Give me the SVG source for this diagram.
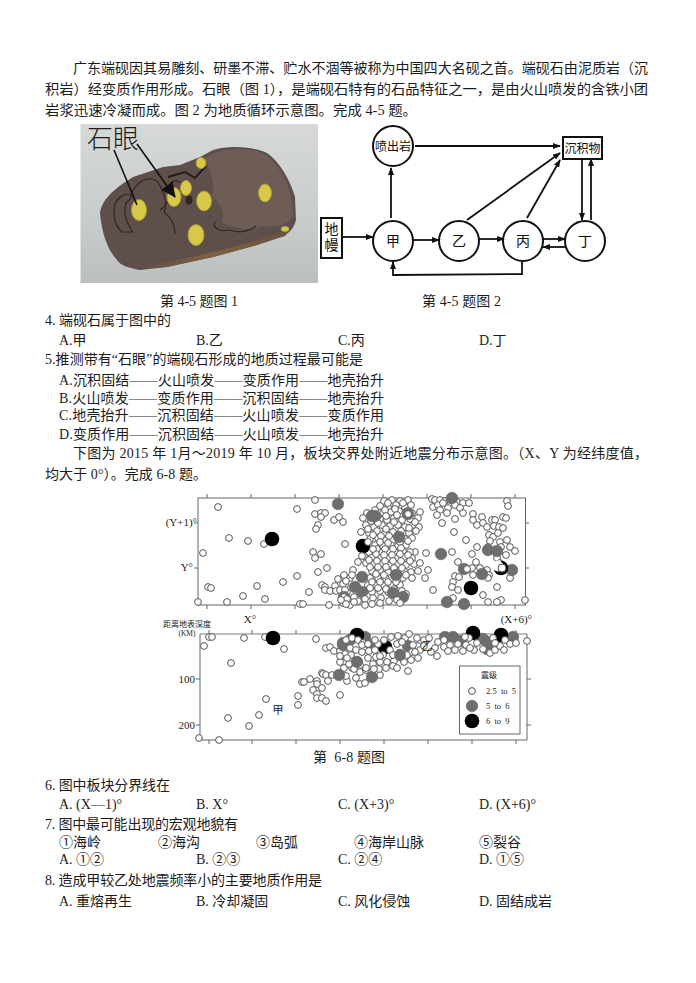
<svg xmlns="http://www.w3.org/2000/svg" width="696" height="983" viewBox="0 0 696 983">
<style>
text{font-family:"Liberation Serif","Noto Sans CJK SC",serif;font-size:14px;fill:#1c1c1c}
.s{font-size:11px}
.n{font-family:"Noto Sans CJK SC",sans-serif;font-size:14px;text-anchor:middle;fill:#111}
.nd circle,.nd rect{fill:#fff;stroke:#111;stroke-width:2}
#connectors path{fill:none;stroke:#111;stroke-width:1.8;marker-end:url(#ah)}
.w circle{r:3.4px;fill:#fff;stroke:#555;stroke-width:1}
.g circle{r:5.8px;fill:#6e6e6e;stroke:#666;stroke-width:.6}
.b circle{r:7.3px;fill:#000}
.fr{fill:none;stroke:#666;stroke-width:1}
.tk{stroke:#666;stroke-width:1;fill:none}
.eye{fill:#d8c94a;stroke:#a89a3a;stroke-width:1}
.cr{fill:none;stroke:#2f2624;stroke-width:1.2}
</style>
<defs>
<marker id="ah" markerWidth="8" markerHeight="7" refX="7" refY="3" orient="auto" markerUnits="userSpaceOnUse"><path d="M0 0L8 3L0 6Z" fill="#111"/></marker>
<marker id="ah2" markerWidth="16" markerHeight="16" refX="14" refY="7" orient="auto" markerUnits="userSpaceOnUse"><path d="M0 0L15 7L0 14Z" fill="#111"/></marker>
<linearGradient id="bg" x1="0" y1="0" x2="0" y2="1"><stop offset="0" stop-color="#d6d9d8"/><stop offset=".6" stop-color="#c9cccc"/><stop offset="1" stop-color="#bcbfbf"/></linearGradient>
<linearGradient id="band" x1="0" y1="0" x2="1" y2="0"><stop offset="0" stop-color="#5f4f4b"/><stop offset=".5" stop-color="#7d6040"/><stop offset="1" stop-color="#6a5240"/></linearGradient>
<filter id="soft"><feGaussianBlur stdDeviation=".6"/></filter>
</defs>
<rect width="696" height="983" fill="#fff"/>

<g id="passage">
<text x="73" y="73" textLength="575" lengthAdjust="spacingAndGlyphs">广东端砚因其易雕刻、研墨不滞、贮水不涸等被称为中国四大名砚之首。端砚石由泥质岩（沉</text>
<text x="45" y="94" textLength="603" lengthAdjust="spacingAndGlyphs">积岩）经变质作用形成。石眼（图 1），是端砚石特有的石品特征之一，是由火山喷发的含铁小团</text>
<text x="45" y="115" textLength="372" lengthAdjust="spacingAndGlyphs">岩浆迅速冷凝而成。图 2 为地质循环示意图。完成 4-5 题。</text>
</g>

<g id="photo">
<rect x="80.5" y="124" width="237.5" height="159" fill="url(#bg)"/>
<g filter="url(#soft)">
<path d="M100 213C102 200 112 190 133 177L163 167L180 165L200 157L213 150C225 146 250 145 267 153C280 162 290 180 295 197L296 220C294 228 290 232 285 235L257 245L213 257L167 267L140 270C128 268 120 265 117 260C108 250 102 235 100 213Z" fill="#5f4f4b"/>
<path d="M205 158C222 147 250 146 266 155C280 166 289 185 292 200L293 216C288 224 278 228 262 226C252 232 232 228 222 222C226 212 220 205 212 195C216 185 210 170 205 158Z" fill="#6d5d57"/>
<path d="M135 268C170 262 230 250 290 230L285 236L257 245L213 257L167 267Z" fill="url(#band)"/>
</g>
<path class="cr" d="M115 205C118 195 128 192 132 197L126 203C122 215 128 225 133 232L122 232C114 225 113 215 115 205Z"/>
<path class="cr" d="M130 196C136 182 148 174 158 182C164 192 168 203 164 212C172 218 175 226 175 234M160 210C166 206 172 198 168 188C170 182 176 178 180 183M215 222C212 228 220 232 228 230C236 232 246 234 256 226"/>
<path d="M168 177L185 172L195 178L206 166" fill="none" stroke="#241c1a" stroke-width="2"/>
<ellipse cx="189" cy="200" rx="3.500" ry="4.500" fill="#2f2624"/>
<ellipse class="eye" cx="139" cy="210" rx="7.500" ry="10.500"/>
<ellipse class="eye" cx="174" cy="197" rx="7" ry="9.500"/>
<ellipse class="eye" cx="186" cy="188" rx="5.500" ry="7.500"/>
<ellipse class="eye" cx="204" cy="201" rx="7.500" ry="10"/>
<ellipse class="eye" cx="196" cy="235" rx="8" ry="10.500"/>
<ellipse class="eye" cx="265" cy="193" rx="6.500" ry="9"/>
<ellipse class="eye" cx="201" cy="163" rx="5" ry="5.500"/>
<ellipse class="eye" cx="285" cy="229" rx="4" ry="2.500"/>
<text x="87" y="148" style="font-size:26px;font-family:'Noto Sans CJK SC',sans-serif;font-weight:300">石眼</text>
<path d="M114 150L137 205M137 144L175 197" stroke="#111" stroke-width="1.6" fill="none" marker-end="url(#ah2)"/>
</g>

<g id="connectors">
<path d="M342 237H373"/>
<path d="M391 218V168"/>
<path d="M415 146H560"/>
<path d="M467 220L560 153"/>
<path d="M527 218L560 160"/>
<path d="M413 240H439"/>
<path d="M479 239H504"/>
<path d="M543 239H565"/>
<path d="M566 247H543"/>
<path d="M582 159V220"/>
<path d="M591 220V159"/>
<path d="M522 262V274L393 275V262"/>
</g>
<g id="node-penchuyan" class="nd"><circle cx="393" cy="146" r="20"/><text class="n" x="393" y="151" style="font-size:12px">喷出岩</text></g>
<g id="node-chenjiwu" class="nd"><rect x="563" y="137" width="39" height="22"/><text class="n" x="582.5" y="153" style="font-size:12px">沉积物</text></g>
<g id="node-diman" class="nd"><rect x="321" y="218" width="21" height="40"/><text class="n"><tspan x="331.500" y="234">地</tspan><tspan x="331.500" y="250">幔</tspan></text></g>
<g id="node-jia" class="nd"><circle cx="393" cy="241" r="20"/><text class="n" x="393" y="246">甲</text></g>
<g id="node-yi" class="nd"><circle cx="459" cy="241" r="20"/><text class="n" x="459" y="246">乙</text></g>
<g id="node-bing" class="nd"><circle cx="523" cy="241" r="20"/><text class="n" x="523" y="246">丙</text></g>
<g id="node-ding" class="nd"><circle cx="585" cy="241" r="20"/><text class="n" x="585" y="246">丁</text></g>

<g id="questions45">
<text x="160" y="306" textLength="78">第 4-5 题图 1</text>
<text x="422" y="306" textLength="79">第 4-5 题图 2</text>
<text x="45" y="325" textLength="126">4. 端砚石属于图中的</text>
<text x="59" y="345">A.甲</text><text x="196" y="345">B.乙</text><text x="338" y="345">C.丙</text><text x="479" y="345">D.丁</text>
<text x="45" y="364" textLength="318">5.推测带有“石眼”的端砚石形成的地质过程最可能是</text>
<text x="59" y="385" textLength="325">A.沉积固结——火山喷发——变质作用——地壳抬升</text>
<text x="59" y="403" textLength="325">B.火山喷发——变质作用——沉积固结——地壳抬升</text>
<text x="59" y="420" textLength="325">C.地壳抬升——沉积固结——火山喷发——变质作用</text>
<text x="59" y="439" textLength="325">D.变质作用——沉积固结——火山喷发——地壳抬升</text>
<text x="73" y="458" textLength="575">下图为 2015 年 1月～2019 年 10 月，板块交界处附近地震分布示意图。（X、Y 为经纬度值，</text>
<text x="45" y="479" textLength="162">均大于 0°）。完成 6-8 题。</text>
</g>

<g id="map-top">
<rect class="fr" x="198" y="498" width="327.500" height="107"/>
<path class="tk" d="M207 498v-4M251 498v-4M295 498v-4M339 498v-4M383 498v-4M427 498v-4M471 498v-4M515 498v-4M207 605v4M251 605v4M295 605v4M339 605v4M383 605v4M427 605v4M471 605v4M515 605v4M198 523h-4M198 568h-4M525 523h4M525 568h4"/>
<g class="w">
<circle cx="218" cy="507"/><circle cx="229" cy="538"/><circle cx="248" cy="541"/><circle cx="264" cy="544"/><circle cx="203" cy="553"/><circle cx="297" cy="509"/><circle cx="315" cy="500"/><circle cx="315" cy="514"/><circle cx="321" cy="513"/><circle cx="325" cy="513"/><circle cx="321" cy="517"/><circle cx="318" cy="525"/><circle cx="316" cy="529"/><circle cx="334" cy="520"/><circle cx="339" cy="517"/><circle cx="343" cy="522"/><circle cx="345" cy="544"/><circle cx="313" cy="552"/><circle cx="321" cy="554"/><circle cx="315" cy="558"/><circle cx="327" cy="568"/><circle cx="318" cy="572"/><circle cx="297" cy="576"/><circle cx="283" cy="582"/><circle cx="257" cy="586"/><circle cx="208" cy="587"/><circle cx="211" cy="588"/><circle cx="243" cy="596"/><circle cx="265" cy="599"/><circle cx="227" cy="602"/><circle cx="198" cy="602"/><circle cx="309" cy="592"/><circle cx="300" cy="604"/><circle cx="303" cy="604"/><circle cx="329" cy="605"/><circle cx="322" cy="585"/><circle cx="325" cy="587"/><circle cx="325" cy="590"/><circle cx="330" cy="591"/><circle cx="335" cy="586"/><circle cx="338" cy="579"/><circle cx="344" cy="577"/><circle cx="336" cy="591"/><circle cx="345" cy="585"/>
<circle cx="507" cy="501"/><circle cx="508" cy="506"/><circle cx="503" cy="517"/><circle cx="506" cy="518"/><circle cx="473" cy="514"/><circle cx="482" cy="517"/><circle cx="473" cy="520"/><circle cx="477" cy="525"/><circle cx="483" cy="523"/><circle cx="492" cy="520"/><circle cx="495" cy="520"/><circle cx="487" cy="527"/><circle cx="494" cy="526"/><circle cx="499" cy="527"/><circle cx="503" cy="528"/><circle cx="489" cy="535"/><circle cx="493" cy="537"/><circle cx="490" cy="541"/><circle cx="498" cy="533"/><circle cx="500" cy="542"/><circle cx="507" cy="540"/><circle cx="501" cy="547"/><circle cx="510" cy="547"/><circle cx="515" cy="551"/><circle cx="506" cy="555"/><circle cx="497" cy="558"/><circle cx="500" cy="563"/><circle cx="488" cy="547"/><circle cx="477" cy="547"/><circle cx="472" cy="554"/><circle cx="466" cy="540"/><circle cx="454" cy="532"/><circle cx="452" cy="552"/><circle cx="426" cy="553"/><circle cx="415" cy="552"/><circle cx="458" cy="562"/><circle cx="476" cy="562"/><circle cx="480" cy="568"/><circle cx="472" cy="568"/><circle cx="467" cy="570"/><circle cx="455" cy="576"/><circle cx="459" cy="577"/><circle cx="453" cy="582"/><circle cx="452" cy="587"/><circle cx="458" cy="590"/><circle cx="473" cy="575"/><circle cx="487" cy="570"/><circle cx="489" cy="575"/><circle cx="488" cy="578"/><circle cx="497" cy="587"/><circle cx="483" cy="595"/><circle cx="510" cy="578"/><circle cx="525" cy="600"/><circle cx="501" cy="600"/><circle cx="497" cy="602"/><circle cx="488" cy="602"/><circle cx="453" cy="598"/><circle cx="433" cy="590"/><circle cx="428" cy="570"/><circle cx="425" cy="578"/>
<circle cx="432" cy="499"/><circle cx="435" cy="500"/><circle cx="440" cy="500"/><circle cx="445" cy="501"/><circle cx="450" cy="500"/><circle cx="457" cy="502"/><circle cx="463" cy="503"/><circle cx="469" cy="503"/><circle cx="433" cy="507"/><circle cx="438" cy="505"/><circle cx="443" cy="503"/><circle cx="455" cy="505"/><circle cx="448" cy="508"/><circle cx="440" cy="510"/><circle cx="447" cy="513"/><circle cx="460" cy="508"/><circle cx="437" cy="515"/><circle cx="463" cy="513"/><circle cx="455" cy="519"/><circle cx="442" cy="523"/>
<circle cx="384" cy="501"/><circle cx="392" cy="500"/><circle cx="400" cy="501"/><circle cx="408" cy="500"/><circle cx="380" cy="506"/><circle cx="388" cy="507"/><circle cx="396" cy="505"/><circle cx="405" cy="507"/><circle cx="411" cy="505"/><circle cx="367" cy="513"/><circle cx="375" cy="510"/><circle cx="383" cy="513"/><circle cx="391" cy="512"/><circle cx="399" cy="511"/><circle cx="412" cy="513"/><circle cx="420" cy="512"/><circle cx="363" cy="518"/><circle cx="371" cy="521"/><circle cx="380" cy="519"/><circle cx="387" cy="520"/><circle cx="394" cy="518"/><circle cx="402" cy="520"/><circle cx="410" cy="519"/><circle cx="418" cy="518"/><circle cx="366" cy="525"/><circle cx="374" cy="527"/><circle cx="382" cy="525"/><circle cx="390" cy="526"/><circle cx="398" cy="525"/><circle cx="405" cy="527"/><circle cx="413" cy="525"/><circle cx="419" cy="527"/><circle cx="361" cy="532"/><circle cx="369" cy="533"/><circle cx="377" cy="531"/><circle cx="385" cy="533"/><circle cx="393" cy="532"/><circle cx="409" cy="533"/><circle cx="416" cy="531"/><circle cx="370" cy="539"/><circle cx="378" cy="538"/><circle cx="386" cy="540"/><circle cx="393" cy="540"/><circle cx="405" cy="539"/><circle cx="412" cy="538"/><circle cx="375" cy="545"/><circle cx="383" cy="546"/><circle cx="391" cy="545"/><circle cx="398" cy="546"/><circle cx="406" cy="545"/><circle cx="380" cy="552"/><circle cx="388" cy="551"/><circle cx="395" cy="552"/><circle cx="403" cy="551"/><circle cx="410" cy="552"/><circle cx="364" cy="556"/><circle cx="372" cy="557"/><circle cx="380" cy="558"/><circle cx="388" cy="558"/><circle cx="396" cy="558"/><circle cx="404" cy="557"/><circle cx="412" cy="558"/><circle cx="358" cy="562"/><circle cx="366" cy="563"/><circle cx="374" cy="564"/><circle cx="382" cy="563"/><circle cx="390" cy="565"/><circle cx="398" cy="564"/><circle cx="406" cy="565"/><circle cx="414" cy="564"/><circle cx="420" cy="563"/><circle cx="344" cy="575"/><circle cx="353" cy="570"/><circle cx="372" cy="571"/><circle cx="380" cy="570"/><circle cx="388" cy="572"/><circle cx="404" cy="571"/><circle cx="411" cy="572"/><circle cx="418" cy="571"/><circle cx="350" cy="578"/><circle cx="370" cy="578"/><circle cx="378" cy="578"/><circle cx="386" cy="579"/><circle cx="403" cy="578"/><circle cx="412" cy="578"/><circle cx="343" cy="584"/><circle cx="368" cy="585"/><circle cx="376" cy="585"/><circle cx="384" cy="586"/><circle cx="392" cy="585"/><circle cx="400" cy="585"/><circle cx="340" cy="590"/><circle cx="347" cy="592"/><circle cx="364" cy="591"/><circle cx="372" cy="592"/><circle cx="380" cy="591"/><circle cx="388" cy="592"/><circle cx="402" cy="591"/><circle cx="406" cy="594"/>
<circle cx="388" cy="503"/><circle cx="395" cy="509"/><circle cx="403" cy="503"/><circle cx="385" cy="510"/><circle cx="407" cy="511"/><circle cx="378" cy="516"/><circle cx="386" cy="516"/><circle cx="397" cy="515"/><circle cx="406" cy="515"/><circle cx="415" cy="522"/><circle cx="368" cy="529"/><circle cx="378" cy="523"/><circle cx="386" cy="529"/><circle cx="394" cy="522"/><circle cx="401" cy="531"/><circle cx="373" cy="535"/><circle cx="381" cy="536"/><circle cx="389" cy="536"/><circle cx="409" cy="528"/><circle cx="380" cy="542"/><circle cx="388" cy="543"/><circle cx="400" cy="542"/><circle cx="408" cy="541"/><circle cx="377" cy="549"/><circle cx="385" cy="549"/><circle cx="393" cy="549"/><circle cx="401" cy="548"/><circle cx="369" cy="552"/><circle cx="376" cy="554"/><circle cx="384" cy="555"/><circle cx="392" cy="555"/><circle cx="400" cy="554"/><circle cx="408" cy="555"/><circle cx="369" cy="560"/><circle cx="377" cy="561"/><circle cx="385" cy="561"/><circle cx="393" cy="561"/><circle cx="401" cy="561"/><circle cx="410" cy="561"/><circle cx="370" cy="567"/><circle cx="378" cy="567"/><circle cx="386" cy="567"/><circle cx="394" cy="568"/><circle cx="402" cy="568"/><circle cx="376" cy="574"/><circle cx="384" cy="575"/><circle cx="406" cy="575"/><circle cx="372" cy="582"/><circle cx="380" cy="582"/><circle cx="388" cy="582"/><circle cx="396" cy="582"/><circle cx="370" cy="588"/><circle cx="378" cy="588"/><circle cx="386" cy="589"/><circle cx="394" cy="589"/><circle cx="346" cy="581"/><circle cx="352" cy="575"/><circle cx="345" cy="590"/>
</g>
<g class="g"><circle cx="338" cy="504"/><circle cx="372" cy="516"/><circle cx="375" cy="516"/><circle cx="399" cy="537"/><circle cx="362" cy="577"/><circle cx="355" cy="587"/><circle cx="396" cy="575"/><circle cx="393" cy="593"/><circle cx="403" cy="597"/><circle cx="441" cy="554"/><circle cx="464" cy="569"/><circle cx="482" cy="574"/><circle cx="488" cy="550"/><circle cx="497" cy="551"/><circle cx="512" cy="570"/><circle cx="447" cy="602"/><circle cx="464" cy="604"/><circle cx="452" cy="498"/><circle cx="408" cy="514"/><circle cx="344" cy="597"/><circle cx="362" cy="592"/></g>
<g class="w"><circle cx="408" cy="514"/><circle cx="467" cy="569"/><circle cx="344" cy="597"/><circle cx="350" cy="600"/><circle cx="343" cy="603"/><circle cx="350" cy="605"/><circle cx="358" cy="601"/><circle cx="365" cy="599"/><circle cx="373" cy="598"/><circle cx="381" cy="598"/><circle cx="389" cy="601"/><circle cx="397" cy="600"/><circle cx="372" cy="604"/><circle cx="380" cy="603"/><circle cx="354" cy="597"/><circle cx="400" cy="603"/><circle cx="347" cy="599"/><circle cx="341" cy="600"/><circle cx="346" cy="604"/><circle cx="354" cy="602"/><circle cx="365" cy="605"/></g>
<g class="b"><circle cx="272" cy="539"/><circle cx="363" cy="546"/><circle cx="471" cy="588"/><circle cx="501" cy="568"/></g>
<g class="w"><circle cx="368" cy="542"/><circle cx="373" cy="549"/><circle cx="362" cy="556"/><circle cx="498" cy="566" style="r:5px;stroke:#fff"/><circle cx="502" cy="568" style="r:4px"/></g>
<text x="197" y="526" text-anchor="end" class="s">(Y+1)°</text>
<text x="193" y="571" text-anchor="end" class="s">Y°</text>
<text x="250" y="623" text-anchor="middle" class="s">X°</text>
<text x="532" y="623" text-anchor="end" class="s">(X+6)°</text>
</g>

<g id="map-bottom">
<text x="187" y="627" text-anchor="middle" style="font-size:8px">距离地表深度</text>
<text x="187" y="636" text-anchor="middle" style="font-size:7.500px">(KM)</text>
<path d="M200 634H527" stroke="#aaa" stroke-width="1.5" fill="none"/>
<path class="fr" d="M200 634V740H527V634"/>
<path class="tk" d="M209 634v-4M252 634v-4M296 634v-4M340 634v-4M384 634v-4M428 634v-4M472 634v-4M516 634v-4M209 740v4M252 740v4M296 740v4M340 740v4M384 740v4M428 740v4M472 740v4M516 740v4M200 679h-4M200 725h-4M527 679h4M527 725h4"/>
<text x="195" y="683" text-anchor="end" class="s">100</text>
<text x="195" y="729" text-anchor="end" class="s">200</text>
<g class="w">
<circle cx="209" cy="637"/><circle cx="212" cy="637"/><circle cx="204" cy="646"/><circle cx="231" cy="663"/><circle cx="244" cy="638"/><circle cx="265" cy="637"/><circle cx="284" cy="649"/><circle cx="316" cy="639"/><circle cx="326" cy="648"/><circle cx="330" cy="647"/><circle cx="334" cy="651"/><circle cx="340" cy="651"/><circle cx="322" cy="673"/><circle cx="323" cy="674"/><circle cx="326" cy="675"/><circle cx="332" cy="675"/><circle cx="328" cy="681"/><circle cx="347" cy="681"/><circle cx="302" cy="682"/><circle cx="304" cy="682"/><circle cx="310" cy="679"/><circle cx="317" cy="681"/><circle cx="317" cy="684"/><circle cx="322" cy="688"/><circle cx="313" cy="690"/><circle cx="317" cy="694"/><circle cx="317" cy="698"/><circle cx="322" cy="698"/><circle cx="326" cy="701"/><circle cx="298" cy="696"/><circle cx="340" cy="695"/><circle cx="298" cy="705"/><circle cx="266" cy="699"/><circle cx="259" cy="715"/><circle cx="228" cy="718"/><circle cx="249" cy="726"/><circle cx="199" cy="738"/><circle cx="219" cy="740"/>
<circle cx="343" cy="656"/><circle cx="349" cy="652"/><circle cx="345" cy="662"/><circle cx="352" cy="668"/><circle cx="344" cy="668"/><circle cx="360" cy="672"/><circle cx="366" cy="670"/><circle cx="356" cy="678"/><circle cx="360" cy="684"/><circle cx="365" cy="683"/><circle cx="380" cy="675"/><circle cx="408" cy="671"/><circle cx="346" cy="676"/>
</g>
<g class="g"><circle cx="343" cy="643"/><circle cx="339" cy="675"/><circle cx="357" cy="662"/><circle cx="372" cy="677"/><circle cx="400" cy="655"/><circle cx="408" cy="646"/><circle cx="365" cy="637"/><circle cx="343" cy="645"/><circle cx="483" cy="639"/><circle cx="513" cy="637"/><circle cx="453" cy="637"/><circle cx="445" cy="637"/><circle cx="371" cy="645"/><circle cx="350" cy="640"/><circle cx="487" cy="649"/><circle cx="460" cy="641"/><circle cx="490" cy="642"/></g>
<g class="b"><circle cx="273" cy="638"/><circle cx="357" cy="635"/><circle cx="385" cy="647"/><circle cx="473" cy="633"/><circle cx="501" cy="635"/></g>
<g class="w">
<circle cx="346" cy="640"/><circle cx="352" cy="638"/><circle cx="358" cy="640"/><circle cx="363" cy="643"/><circle cx="369" cy="651"/><circle cx="375" cy="650"/><circle cx="378" cy="644"/><circle cx="384" cy="640"/><circle cx="391" cy="637"/><circle cx="398" cy="636"/><circle cx="405" cy="638"/><circle cx="409" cy="634"/><circle cx="417" cy="638"/><circle cx="350" cy="648"/><circle cx="356" cy="650"/><circle cx="362" cy="652"/><circle cx="368" cy="658"/><circle cx="376" cy="657"/><circle cx="383" cy="655"/><circle cx="390" cy="650"/><circle cx="397" cy="644"/><circle cx="412" cy="652"/><circle cx="418" cy="646"/><circle cx="424" cy="640"/><circle cx="429" cy="638"/><circle cx="345" cy="654"/><circle cx="351" cy="655"/><circle cx="373" cy="664"/><circle cx="380" cy="662"/><circle cx="387" cy="662"/><circle cx="394" cy="661"/><circle cx="404" cy="662"/><circle cx="411" cy="660"/><circle cx="418" cy="658"/><circle cx="349" cy="664"/><circle cx="354" cy="669"/><circle cx="366" cy="668"/><circle cx="379" cy="669"/><circle cx="386" cy="668"/><circle cx="393" cy="666"/><circle cx="397" cy="668"/><circle cx="420" cy="650"/>
<circle cx="435" cy="648"/><circle cx="438" cy="642"/><circle cx="444" cy="647"/><circle cx="444" cy="640"/><circle cx="450" cy="645"/><circle cx="455" cy="650"/><circle cx="458" cy="644"/><circle cx="463" cy="651"/><circle cx="466" cy="645"/><circle cx="469" cy="638"/><circle cx="474" cy="650"/><circle cx="477" cy="643"/><circle cx="483" cy="649"/><circle cx="490" cy="653"/><circle cx="495" cy="650"/><circle cx="500" cy="646"/><circle cx="504" cy="650"/><circle cx="510" cy="644"/><circle cx="516" cy="643"/><circle cx="527" cy="641"/><circle cx="437" cy="656"/><circle cx="505" cy="640"/><circle cx="493" cy="638"/><circle cx="465" cy="637"/>
<circle cx="393" cy="655"/><circle cx="413" cy="645"/><circle cx="375" cy="640"/><circle cx="402" cy="642"/><circle cx="347" cy="658"/><circle cx="362" cy="645"/><circle cx="368" cy="644"/><circle cx="380" cy="656"/><circle cx="407" cy="655"/><circle cx="374" cy="669"/><circle cx="360" cy="665"/><circle cx="415" cy="652"/><circle cx="424" cy="646"/><circle cx="431" cy="652"/><circle cx="340" cy="662"/><circle cx="340" cy="656"/><circle cx="448" cy="651"/><circle cx="470" cy="648"/><circle cx="495" cy="643"/></g>
<g class="g"><circle cx="400" cy="655" style="r:5.500px"/><circle cx="357" cy="662" style="r:5.500px"/></g>
<text x="427" y="650" text-anchor="middle" style="font-size:11px">乙</text>
<text x="278" y="714" text-anchor="middle" style="font-size:11px">甲</text>
<g id="legend">
<rect x="459.500" y="666" width="60.500" height="68" fill="#fff" stroke="#666"/>
<text x="489" y="678" text-anchor="middle" style="font-size:8px">震级</text>
<g class="w"><circle cx="472" cy="691"/></g>
<g class="g"><circle cx="472" cy="706"/></g>
<g class="b"><circle cx="472" cy="721"/></g>
<text x="486" y="694" style="font-size:8.500px" xml:space="preserve">2.5  to  5</text>
<text x="486" y="709" style="font-size:8.500px" xml:space="preserve">5  to  6</text>
<text x="486" y="724" style="font-size:8.500px" xml:space="preserve">6  to  9</text>
</g>
</g>

<g id="questions68">
<text x="313" y="762" xml:space="preserve" textLength="72">第  6-8 题图</text>
<text x="45" y="790" textLength="125">6. 图中板块分界线在</text>
<text x="59" y="809">A. (X—1)°</text><text x="196" y="809">B. X°</text><text x="338" y="809">C. (X+3)°</text><text x="479" y="809">D. (X+6)°</text>
<text x="45" y="829" textLength="193">7. 图中最可能出现的宏观地貌有</text>
<text x="59" y="847">①海岭</text><text x="158" y="847">②海沟</text><text x="256" y="847">③岛弧</text><text x="354" y="847">④海岸山脉</text><text x="479" y="847">⑤裂谷</text>
<text x="59" y="864">A. ①②</text><text x="196" y="864">B. ②③</text><text x="338" y="864">C. ②④</text><text x="479" y="864">D. ①⑤</text>
<text x="45" y="885" textLength="277">8. 造成甲较乙处地震频率小的主要地质作用是</text>
<text x="59" y="906">A. 重熔再生</text><text x="196" y="906">B. 冷却凝固</text><text x="338" y="906">C. 风化侵蚀</text><text x="479" y="906">D. 固结成岩</text>
</g>
</svg>
